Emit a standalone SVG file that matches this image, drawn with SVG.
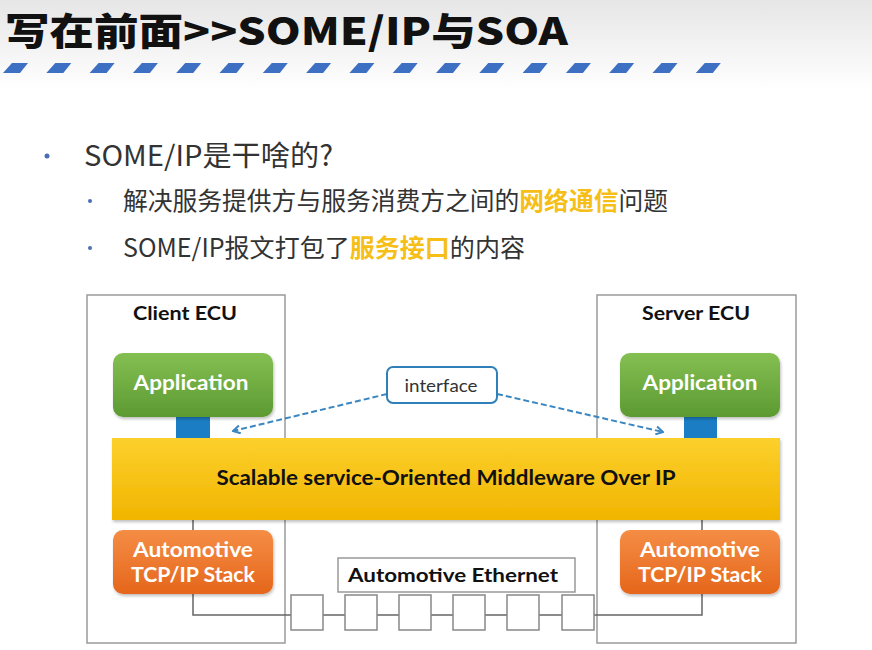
<svg xmlns="http://www.w3.org/2000/svg" width="872" height="650" viewBox="0 0 872 650">
  <defs>
    <linearGradient id="hdr" x1="0" y1="0" x2="0" y2="1">
      <stop offset="0" stop-color="#e6e6e6"/>
      <stop offset="1" stop-color="#ffffff"/>
    </linearGradient>
    <linearGradient id="green" x1="0" y1="0" x2="0" y2="1">
      <stop offset="0" stop-color="#84bf52"/>
      <stop offset="1" stop-color="#5c9a32"/>
    </linearGradient>
    <linearGradient id="orange" x1="0" y1="0" x2="0" y2="1">
      <stop offset="0" stop-color="#f58d45"/>
      <stop offset="1" stop-color="#e5661b"/>
    </linearGradient>
    <linearGradient id="yellow" x1="0" y1="0" x2="0" y2="1">
      <stop offset="0" stop-color="#fcd02c"/>
      <stop offset="1" stop-color="#f1b500"/>
    </linearGradient>
    <filter id="shadow" x="-10%" y="-10%" width="120%" height="130%">
      <feDropShadow dx="1" dy="2" stdDeviation="1.5" flood-color="#000" flood-opacity="0.25"/>
    </filter>
    <marker id="chev" viewBox="0 0 10 10" refX="9" refY="5" markerWidth="10" markerHeight="10" markerUnits="userSpaceOnUse" orient="auto">
      <path d="M2,1 L9,5 L2,9" fill="none" stroke="#3a86c0" stroke-width="2"/>
    </marker>
    <path id="stripe" d="M12,63 L28,63 L20,73 L3,73 Z"/>
  </defs>
  <style>
    .title { font-family: "Noto Sans CJK SC", "Noto Sans", sans-serif; font-weight: 900; font-size: 38px; fill: #111; }
    .b1 { font-family: "Noto Sans CJK SC", "Noto Sans", sans-serif; font-size: 28px; fill: #333; }
    .b2 { font-family: "Noto Sans CJK SC", "Noto Sans", sans-serif; font-size: 25px; fill: #333; }
    .hl { fill: #f5bf17; font-weight: 700; }
    .dot { fill: #4a6fb5; }
    .ecu { fill: #fff; stroke: #9a9a9a; stroke-width: 1.5; }
    .lbl { font-family: Lato, "Open Sans", sans-serif; font-weight: 700; fill: #111; text-anchor: middle; }
    .wlbl { font-family: Lato, "Open Sans", sans-serif; font-weight: 700; fill: #fff; text-anchor: middle; font-size: 20px; }
    .wire { fill: none; stroke: #666; stroke-width: 1.5; }
    .sq { fill: #fff; stroke: #888; stroke-width: 1.5; }
    .link { fill: none; stroke: #3a86c0; stroke-width: 2; stroke-dasharray: 6 3; }
    .port { fill: #1b7dc4; }
  </style>

  <!-- header -->
  <rect x="0" y="0" width="872" height="90" fill="url(#hdr)"/>
  <text class="title" x="5" y="45" textLength="563" lengthAdjust="spacingAndGlyphs">写在前面&gt;&gt;SOME/IP与SOA</text>
  <g id="stripes" fill="#3d6fc2">
    <use href="#stripe" x="0"/>
    <use href="#stripe" x="43.3"/>
    <use href="#stripe" x="86.6"/>
    <use href="#stripe" x="129.9"/>
    <use href="#stripe" x="173.2"/>
    <use href="#stripe" x="216.5"/>
    <use href="#stripe" x="259.8"/>
    <use href="#stripe" x="303.1"/>
    <use href="#stripe" x="346.4"/>
    <use href="#stripe" x="389.7"/>
    <use href="#stripe" x="433"/>
    <use href="#stripe" x="476.3"/>
    <use href="#stripe" x="519.6"/>
    <use href="#stripe" x="562.9"/>
    <use href="#stripe" x="606.2"/>
    <use href="#stripe" x="649.5"/>
    <use href="#stripe" x="692.8"/>
  </g>

  <!-- bullet list -->
  <g id="bullets">
    <circle class="dot" cx="47" cy="156" r="2.5"/>
    <text class="b1" x="84" y="166" textLength="249" lengthAdjust="spacingAndGlyphs">SOME/IP是干啥的?</text>
    <circle class="dot" cx="90" cy="201" r="2"/>
    <text class="b2" x="123" y="210" textLength="545" lengthAdjust="spacingAndGlyphs">解决服务提供方与服务消费方之间的<tspan class="hl">网络通信</tspan>问题</text>
    <circle class="dot" cx="90" cy="248" r="2"/>
    <text class="b2" x="123" y="257" textLength="402" lengthAdjust="spacingAndGlyphs">SOME/IP报文打包了<tspan class="hl">服务接口</tspan>的内容</text>
  </g>

  <!-- ECU frames -->
  <g id="client-ecu">
    <rect class="ecu" x="87" y="295" width="198" height="348"/>
    <text class="lbl" x="185" y="320" font-size="19" textLength="104" lengthAdjust="spacingAndGlyphs">Client ECU</text>
  </g>
  <g id="server-ecu">
    <rect class="ecu" x="597" y="295" width="199" height="348"/>
    <text class="lbl" x="696" y="320" font-size="19" textLength="108" lengthAdjust="spacingAndGlyphs">Server ECU</text>
  </g>

  <!-- connectors -->
  <g id="connectors">
    <path class="wire" d="M193,520 V615 H702 V520"/>
    <path class="link" d="M387,394 L233,431" marker-end="url(#chev)"/>
    <path class="link" d="M497,394 L663,432" marker-end="url(#chev)"/>
  </g>

  <!-- ports between application and middleware -->
  <g id="client-port"><rect class="port" x="176" y="417" width="34" height="22"/></g>
  <g id="server-port"><rect class="port" x="684" y="417" width="33" height="22"/></g>

  <g id="client-app">
    <rect x="113" y="353" width="160" height="64" rx="10" fill="url(#green)" filter="url(#shadow)"/>
    <text class="wlbl" x="191" y="390" textLength="115" lengthAdjust="spacingAndGlyphs">Application</text>
  </g>
  <g id="server-app">
    <rect x="620" y="353" width="160" height="64" rx="10" fill="url(#green)" filter="url(#shadow)"/>
    <text class="wlbl" x="700" y="390" textLength="115" lengthAdjust="spacingAndGlyphs">Application</text>
  </g>

  <g id="interface">
    <rect x="387" y="367" width="110" height="36" rx="6" fill="#fff" stroke="#2f7fb8" stroke-width="2"/>
    <text x="441" y="392" font-family="Lato, 'Open Sans', sans-serif" font-size="17" fill="#333" text-anchor="middle" textLength="73" lengthAdjust="spacingAndGlyphs">interface</text>
  </g>

  <g id="someip">
    <rect x="112" y="438" width="668" height="82" fill="url(#yellow)" filter="url(#shadow)"/>
    <text class="lbl" x="446" y="485" font-size="20" textLength="459" lengthAdjust="spacingAndGlyphs">Scalable service-Oriented Middleware Over IP</text>
  </g>

  <g id="client-tcpip">
    <rect x="113" y="530" width="160" height="64" rx="10" fill="url(#orange)" filter="url(#shadow)"/>
    <text class="wlbl" x="193" y="557" textLength="120" lengthAdjust="spacingAndGlyphs">Automotive</text>
    <text class="wlbl" x="193" y="582" textLength="124" lengthAdjust="spacingAndGlyphs">TCP/IP Stack</text>
  </g>
  <g id="server-tcpip">
    <rect x="620" y="530" width="160" height="64" rx="10" fill="url(#orange)" filter="url(#shadow)"/>
    <text class="wlbl" x="700" y="557" textLength="120" lengthAdjust="spacingAndGlyphs">Automotive</text>
    <text class="wlbl" x="700" y="582" textLength="124" lengthAdjust="spacingAndGlyphs">TCP/IP Stack</text>
  </g>

  <g id="ethernet">
    <rect x="338" y="558" width="237" height="34" fill="#fff" stroke="#999" stroke-width="1.5"/>
    <text class="lbl" x="453" y="582" font-size="19" textLength="210" lengthAdjust="spacingAndGlyphs">Automotive Ethernet</text>
    <rect class="sq" x="291" y="595" width="32" height="35"/>
    <rect class="sq" x="345" y="595" width="32" height="35"/>
    <rect class="sq" x="399" y="595" width="32" height="35"/>
    <rect class="sq" x="453" y="595" width="32" height="35"/>
    <rect class="sq" x="507" y="595" width="32" height="35"/>
    <rect class="sq" x="562" y="595" width="32" height="35"/>
  </g>
</svg>
